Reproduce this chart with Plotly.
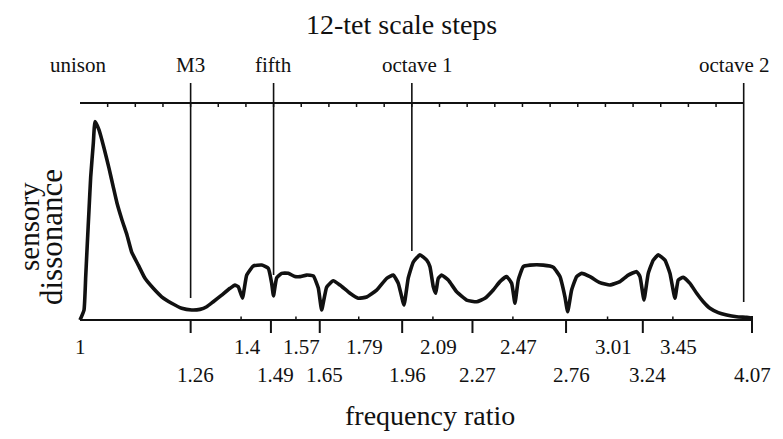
import math
import plotly.graph_objects as go

# ---- data ----
ratio = [1.000, 1.0084, 1.012, 1.0154, 1.019, 1.0226, 1.0282, 1.0318, 1.0405, 1.0514,
         1.0624, 1.0714, 1.0803, 1.0917, 1.1031, 1.114, 1.1295, 1.1454,
         1.1654, 1.186, 1.211, 1.2367, 1.2628, 1.2848, 1.303, 1.321, 1.3444, 1.368,
         1.3822, 1.3918, 1.404, 1.4166, 1.4362, 1.4616, 1.4819, 1.4924, 1.498, 1.508,
         1.524, 1.545, 1.5667, 1.5833, 1.6056, 1.628, 1.645, 1.6566, 1.6741, 1.6973,
         1.7212, 1.7575, 1.7882, 1.8199, 1.8583, 1.8976, 1.9239, 1.9441, 1.9674, 1.9851,
         2.006, 2.034, 2.063, 2.077, 2.0916, 2.102, 2.1135, 2.1285, 2.158, 2.1963,
         2.2425, 2.2899, 2.33, 2.3707, 2.4042, 2.438, 2.4635, 2.4806, 2.4978, 2.5242,
         2.5597, 2.6317, 2.6872, 2.725, 2.7536, 2.7693, 2.7924, 2.8219, 2.8514, 2.9015,
         2.9625, 3.025, 3.0889, 3.1431, 3.1986, 3.2208, 3.2479, 3.277, 3.3115, 3.3462,
         3.3933, 3.4288, 3.465, 3.489, 3.5254, 3.5752, 3.6256, 3.676, 3.7278, 3.793,
         3.8603, 3.9418, 4.025, 4.0695]
dissonance = [0.000, 0.046, 0.200, 0.353, 0.507, 0.660, 0.814, 0.914, 0.876, 0.793,
              0.700, 0.618, 0.539, 0.461, 0.392, 0.313, 0.253, 0.192,
              0.146, 0.107, 0.077, 0.054, 0.046, 0.049, 0.061, 0.084, 0.115, 0.146,
              0.161, 0.153, 0.101, 0.207, 0.249, 0.253, 0.238, 0.169, 0.111, 0.194,
              0.215, 0.215, 0.200, 0.200, 0.207, 0.203, 0.147, 0.046, 0.152, 0.181,
              0.161, 0.123, 0.100, 0.106, 0.138, 0.192, 0.207, 0.169, 0.069, 0.194,
              0.267, 0.300, 0.276, 0.246, 0.153, 0.123, 0.192, 0.207, 0.184, 0.130,
              0.092, 0.084, 0.100, 0.138, 0.177, 0.200, 0.169, 0.077, 0.184, 0.246,
              0.253, 0.253, 0.243, 0.200, 0.107, 0.038, 0.138, 0.200, 0.215, 0.200,
              0.172, 0.161, 0.177, 0.207, 0.223, 0.200, 0.092, 0.215, 0.276, 0.300,
              0.276, 0.215, 0.100, 0.184, 0.197, 0.169, 0.123, 0.084, 0.054, 0.034,
              0.023, 0.015, 0.012, 0.009]

upper_ticks = [1, 1.4, 1.57, 1.79, 2.09, 2.47, 3.01, 3.45]
upper_labels = ["1", "1.4", "1.57", "1.79", "2.09", "2.47", "3.01", "3.45"]
lower_ticks = [1.26, 1.49, 1.65, 1.96, 2.27, 2.76, 3.24, 4.07]
lower_labels = ["1.26", "1.49", "1.65", "1.96", "2.27", "2.76", "3.24", "4.07"]

interval_names = ["unison", "M3", "fifth", "octave 1", "octave 2"]
interval_steps = [0, 4, 7, 12, 24]
n_steps = 24

# ---- layout helpers (pixel geometry, given in page pixels) ----
OFF = 8                      # default page body margin
W, H = 783, 439
PLOT_LEFT, PLOT_RIGHT = 72, 760      # page px
PLOT_TOP, PLOT_BOTTOM = 103, 327     # page px
L = PLOT_LEFT - OFF
R = W - (PLOT_RIGHT - OFF)
T = PLOT_TOP - OFF
B = H - (PLOT_BOTTOM - OFF)
PLOT_H = PLOT_BOTTOM - PLOT_TOP
PLOT_W = PLOT_RIGHT - PLOT_LEFT
BASE_PX = 320               # page row of dissonance 0
UNIT_PX = 217               # pixels per unit of dissonance
PX_PER_LOG10 = 1102.4
ymin = -(PLOT_BOTTOM - BASE_PX) / UNIT_PX
ymax = (BASE_PX - PLOT_TOP) / UNIT_PX
xmin = -8 / PX_PER_LOG10
xmax = math.log10(4.07) + 8 / PX_PER_LOG10


def py(p):
    return (PLOT_BOTTOM - p) / PLOT_H


def pxp(p):
    return (p - PLOT_LEFT) / PLOT_W


FONT = "Liberation Serif, Times New Roman, serif"
INK = "#111111"

fig = go.Figure()
fig.add_trace(go.Scatter(x=ratio, y=dissonance, mode="lines",
                         line=dict(color=INK, width=3.6, shape="spline", smoothing=0.4),
                         hoverinfo="skip", showlegend=False))

shapes = []
# bottom axis line
shapes.append(dict(type="line", xref="x", yref="y", x0=1, x1=4.07, y0=0, y1=0,
                   line=dict(color=INK, width=2.2)))
# major ticks (lower row)
for v in lower_ticks:
    top = py(316) if v == lower_ticks[-1] else py(320)
    shapes.append(dict(type="line", xref="x", yref="paper", x0=v, x1=v,
                       y0=top, y1=py(333), line=dict(color=INK, width=2)))
# minor ticks (upper row)
for v in upper_ticks[1:]:
    shapes.append(dict(type="line", xref="x", yref="paper", x0=v, x1=v,
                       y0=py(320), y1=py(316.5), line=dict(color=INK, width=1.5)))
# top scale line
shapes.append(dict(type="line", xref="x", yref="paper", x0=1, x1=2 ** (n_steps / 12),
                   y0=py(103), y1=py(103), line=dict(color=INK, width=2.2)))
for k in range(1, n_steps):
    v = 2 ** (k / 12)
    shapes.append(dict(type="line", xref="x", yref="paper", x0=v, x1=v,
                       y0=py(103), y1=py(107), line=dict(color=INK, width=1.5)))
# interval marker lines
line_bottom_px = {4: 298, 7: 275, 12: 251, 24: 302}
for k, bot in line_bottom_px.items():
    v = 2 ** (k / 12)
    shapes.append(dict(type="line", xref="x", yref="paper", x0=v, x1=v,
                       y0=py(83), y1=py(bot), line=dict(color=INK, width=1.6)))

annotations = []
name_shift = [-2, 0, 0, 6, -9]
for name, k, s in zip(interval_names, interval_steps, name_shift):
    annotations.append(dict(x=math.log10(2 ** (k / 12)), y=py(65), xref="x", yref="paper",
                            text=name, showarrow=False, xshift=s,
                            font=dict(family=FONT, size=21, color=INK),
                            xanchor="center", yanchor="middle"))
for v, t in zip(upper_ticks, upper_labels):
    annotations.append(dict(x=math.log10(v), y=py(347), xref="x", yref="paper",
                            text=t, showarrow=False, xshift=0 if v == 1 else 6,
                            font=dict(family=FONT, size=21, color=INK),
                            xanchor="center", yanchor="middle"))
for v, t in zip(lower_ticks, lower_labels):
    annotations.append(dict(x=math.log10(v), y=py(375), xref="x", yref="paper",
                            text=t, showarrow=False, xshift=0 if v == 4.07 else 5,
                            font=dict(family=FONT, size=21, color=INK),
                            xanchor="center", yanchor="middle"))
annotations.append(dict(x=pxp(401), y=py(25), xref="paper", yref="paper",
                        text="12-tet scale steps", showarrow=False,
                        font=dict(family=FONT, size=28, color=INK),
                        xanchor="center", yanchor="middle"))
annotations.append(dict(x=pxp(430), y=py(415), xref="paper", yref="paper",
                        text="frequency ratio", showarrow=False,
                        font=dict(family=FONT, size=28, color=INK),
                        xanchor="center", yanchor="middle"))
annotations.append(dict(x=pxp(29), y=py(227), xref="paper", yref="paper",
                        text="sensory", showarrow=False, textangle=-90,
                        font=dict(family=FONT, size=29, color=INK),
                        xanchor="center", yanchor="middle", borderpad=0))
annotations.append(dict(x=pxp(51), y=py(237), xref="paper", yref="paper",
                        text="dissonance", showarrow=False, textangle=-90,
                        font=dict(family=FONT, size=31, color=INK),
                        xanchor="center", yanchor="middle", borderpad=0))

fig.update_layout(
    width=W, height=H,
    margin=dict(l=L, r=R, t=T, b=B),
    paper_bgcolor="white", plot_bgcolor="white",
    xaxis=dict(type="log", range=[xmin, xmax], visible=False, fixedrange=True),
    yaxis=dict(range=[ymin, ymax], visible=False, fixedrange=True),
    shapes=shapes, annotations=annotations, showlegend=False,
)

fig.write_html("out.html")
